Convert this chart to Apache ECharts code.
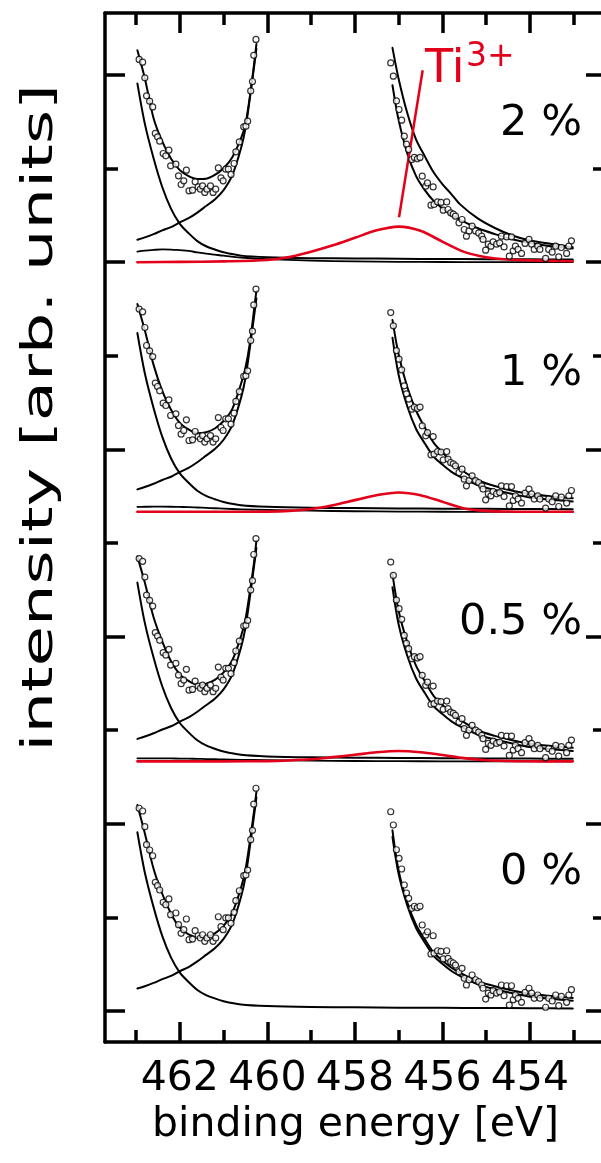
<!DOCTYPE html>
<html><head><meta charset="utf-8">
<script src="https://cdn.jsdelivr.net/npm/echarts@6/dist/echarts.min.js"></script>
<style>html,body{margin:0;padding:0;background:#fff}#c{width:601px;height:1163px}</style>
</head><body><div id="c"></div>
<script>
// ---------- data (binding energy in eV, intensity in arb. units relative to each panel's baseline) ----------
const panelLabels = ['2 %', '1 %', '0.5 %', '0 %'];
const panelOffsets = [8, 5.333, 2.667, 0];
const xTicksMajor = [454, 456, 458, 460, 462];
const xTicksMinor = [453, 455, 457, 459, 461, 463];
const yTicksMajor = [0, 2, 4, 6, 8, 10];
const yTicksMinor = [1, 3, 5, 7, 9];

// measured points (same spectrum shape in every panel)
const pointsLeft = [[462.93,2.166],[462.85,2.137],[462.80,1.969],[462.76,1.777],[462.69,1.720],[462.62,1.659],[462.56,1.375],[462.51,1.339],[462.46,1.293],[462.38,1.161],[462.32,1.136],[462.25,1.197],[462.21,1.029],[462.09,1.047],[462.03,0.922],[461.97,0.830],[461.91,0.869],[461.85,0.983],[461.79,0.762],[461.71,0.769],[461.65,0.858],[461.58,0.804],[461.53,0.780],[461.48,0.815],[461.43,0.745],[461.38,0.780],[461.30,0.815],[461.24,0.745],[461.18,0.780],[461.12,1.007],[461.06,0.901],[461.01,0.869],[460.95,0.994],[460.89,0.994],[460.83,0.937],[460.76,1.054],[460.72,1.179],[460.64,1.285],[460.54,1.446],[460.49,1.453],[460.45,1.506],[460.38,1.830],[460.34,1.930],[460.31,2.210],[460.26,2.380]];
const pointsRight = [[457.18,2.129],[457.12,1.987],[457.05,1.723],[456.99,1.631],[456.93,1.517],[456.87,1.346],[456.82,1.261],[456.77,1.204],[456.70,1.097],[456.64,1.119],[456.57,1.104],[456.51,1.119],[456.46,0.919],[456.38,0.812],[456.34,0.847],[456.26,0.609],[456.21,0.804],[456.19,0.616],[456.11,0.644],[456.03,0.638],[455.98,0.556],[455.90,0.644],[455.87,0.563],[455.81,0.527],[455.75,0.513],[455.70,0.491],[455.62,0.420],[455.55,0.456],[455.50,0.349],[455.45,0.278],[455.39,0.334],[455.32,0.385],[455.24,0.334],[455.17,0.313],[455.10,0.278],[455.07,0.243],[455.01,0.128],[454.95,0.192],[454.89,0.171],[454.84,0.217],[454.76,0.192],[454.69,0.206],[454.65,0.278],[454.59,0.163],[454.53,0.270],[454.47,0.064],[454.42,0.270],[454.38,0.121],[454.33,0.171],[454.27,0.136],[454.19,0.093],[454.11,0.200],[454.02,0.243],[453.96,0.192],[453.90,0.136],[453.82,0.171],[453.77,0.136],[453.64,0.040],[453.57,0.136],[453.49,0.107],[453.41,0.171],[453.34,0.057],[453.28,0.157],[453.16,0.093],[453.11,0.171],[453.05,0.228]];

// energy grids on which the fitted curves were read
const eLeft  = [462.97,462.8,462.6,462.4,462.2,462.0,461.8,461.6,461.4,461.2,461.0,460.8,460.6,460.5,460.4,460.3,460.25];
const eFull  = [462.97,462.8,462.6,462.4,462.2,462.0,461.8,461.6,461.4,461.2,461.0,460.6,460.0,459.0,458.0,457.0,456.0,455.0,454.0,453.02];
const eRight = [457.14,457.0,456.8,456.6,456.4,456.2,456.0,455.8,455.6,455.2,454.8,454.4,454.0,453.5,453.02];
const eTi3   = [462.97,462.0,461.0,460.0,459.5,459.0,458.5,458.0,457.5,457.0,456.5,456.0,455.5,455.0,454.5,454.0,453.5,453.02];

// Ti 2p1/2 component (tail from the left), same in all panels
const compA = [1.91,1.48,1.11,0.80,0.57,0.41,0.31,0.225,0.17,0.135,0.105,0.07,0.053,0.043,0.04,0.036,0.034,0.032,0.03,0.028];
// Ti 2p3/2 component, left branch and right branch
const compBLeft = [0.24,0.265,0.30,0.34,0.375,0.425,0.47,0.53,0.60,0.67,0.77,0.93,1.22,1.43,1.75,2.10,2.28];
const compBRight2 = [1.89,1.52,1.16,0.92,0.77,0.655,0.575,0.51,0.455,0.365,0.30,0.245,0.205,0.17,0.146];
const compBRight = [1.86,1.465,1.125,0.885,0.73,0.59,0.505,0.43,0.375,0.287,0.233,0.19,0.153,0.13,0.11];

// fit envelopes
const envLeft2  = [2.265,1.966,1.538,1.287,1.106,0.983,0.919,0.889,0.892,0.932,1.004,1.122,1.325,1.474,1.766,2.126,2.33];
const envLeft1  = [2.22,1.94,1.57,1.29,1.09,0.95,0.88,0.84,0.85,0.89,0.97,1.10,1.37,1.54,1.80,2.17,2.36];
const envLeft05 = [2.19,1.91,1.54,1.28,1.07,0.93,0.86,0.82,0.83,0.87,0.95,1.08,1.34,1.52,1.81,2.14,2.36];
const envLeft0  = [2.20,1.90,1.52,1.25,1.04,0.89,0.82,0.79,0.795,0.83,0.91,1.05,1.32,1.51,1.81,2.15,2.34];
const envRight2  = [2.29,1.96,1.59,1.31,1.13,0.96,0.835,0.73,0.62,0.47,0.365,0.285,0.232,0.195,0.16];
const envRight1  = [2.05,1.68,1.33,1.08,0.90,0.74,0.635,0.54,0.46,0.34,0.275,0.225,0.19,0.165,0.145];
const envRight05 = [2.0,1.61,1.27,1.02,0.855,0.70,0.605,0.515,0.445,0.335,0.272,0.225,0.188,0.165,0.145];
const envRight0  = [1.93,1.50,1.16,0.92,0.765,0.625,0.54,0.465,0.41,0.32,0.265,0.22,0.185,0.16,0.14];

// small black background-like component
const small2  = [0.113,0.123,0.131,0.137,0.135,0.128,0.121,0.104,0.091,0.08,0.069,0.05,0.033,0.017,0.008,0.004,0.002,0.001,0,0];
const small1  = [0.053,0.054,0.055,0.055,0.054,0.052,0.05,0.046,0.042,0.038,0.034,0.027,0.02,0.012,0.006,0.003,0.001,0,0,0];
const small05 = [0.033,0.033,0.033,0.032,0.031,0.03,0.029,0.027,0.025,0.023,0.021,0.017,0.013,0.008,0.004,0.002,0.001,0,0,0];

// Ti3+ component (red)
const ti3_2  = [0,0.003,0.009,0.024,0.056,0.112,0.18,0.26,0.34,0.38,0.335,0.22,0.11,0.053,0.028,0.019,0.014,0.01];
const ti3_1  = [0,0,0,0.002,0.01,0.03,0.07,0.125,0.178,0.207,0.178,0.107,0.036,0.01,0.003,0,0,0];
const ti3_05 = [0,0,0,0.003,0.01,0.022,0.045,0.07,0.097,0.111,0.098,0.068,0.035,0.012,0.004,0.001,0,0];

// annotation pointer for the Ti3+ label (data coordinates)
const ti3Pointer = [[456.99, 8.48], [456.45, 10.05]];

// ---------- build ----------
const RED = '#e2001a';
const FONT = 'DejaVu Sans';
const xMin = 452.26, xMax = 463.71, yMin = -0.331, yMax = 10.662;

const envLefts = [envLeft2, envLeft1, envLeft05, envLeft0];
const envRights = [envRight2, envRight1, envRight05, envRight0];
const bRights = [compBRight2, compBRight, compBRight, compBRight];
const smalls = [small2, small1, small05, null];
const ti3s = [ti3_2, ti3_1, ti3_05, null];

function pairs(xs, ys, off) { return xs.map((x, i) => [x, ys[i] + off]); }
function curve(data, color, width) {
  return { type: 'line', data, xAxisIndex: 0, yAxisIndex: 0, showSymbol: false, symbol: 'none',
    smooth: 0.3, lineStyle: { color, width, join: 'round', cap: 'round' }, silent: true, animation: false, z: 3 };
}

const series = [];
panelOffsets.forEach((off, k) => {
  if (smalls[k]) series.push(curve(pairs(eFull, smalls[k], off), '#000', 1.8));
  series.push(curve(pairs(eFull, compA, off), '#000', 2));
  series.push(curve(pairs(eLeft, compBLeft, off), '#000', 2));
  series.push(curve(pairs(eRight, bRights[k], off), '#000', 2));
  series.push(curve(pairs(eLeft, envLefts[k], off), '#000', 2));
  series.push(curve(pairs(eRight, envRights[k], off), '#000', 2));
  if (ti3s[k]) { const c = curve(pairs(eTi3, ti3s[k], off), RED, 2.6); c.z = 4; series.push(c); }
  series.push({ type: 'scatter', xAxisIndex: 0, yAxisIndex: 0, symbol: 'circle', symbolSize: 6,
    data: pointsLeft.concat(pointsRight).map(p => [p[0], p[1] + off]),
    itemStyle: { color: '#fff', borderColor: '#000', borderWidth: 1.2 }, silent: true, animation: false, z: 5 });
});
series.push({ type: 'line', data: ti3Pointer, xAxisIndex: 0, yAxisIndex: 0, showSymbol: false, symbol: 'none',
  lineStyle: { color: RED, width: 2.5 }, silent: true, animation: false, z: 4 });

const lineSt = { color: '#000', width: 3.5 };
function xAx(grid, pos, ticks, len, line, labels) {
  return { type: 'value', gridIndex: grid, position: pos, min: xMin, max: xMax, inverse: true,
    axisLine: { show: line, onZero: false, lineStyle: lineSt },
    axisTick: { show: true, inside: true, length: len, customValues: ticks, lineStyle: lineSt },
    axisLabel: labels ? { show: true, customValues: ticks, fontSize: 41, fontFamily: FONT, color: '#000', margin: 17 } : { show: false },
    splitLine: { show: false }, minorTick: { show: false } };
}
function yAx(grid, pos, ticks, len, line) {
  return { type: 'value', gridIndex: grid, position: pos, min: yMin, max: yMax,
    axisLine: { show: line, onZero: false, lineStyle: lineSt },
    axisTick: { show: true, inside: true, length: len, customValues: ticks, lineStyle: lineSt },
    axisLabel: { show: false }, splitLine: { show: false } };
}
const xBottom = xAx(0, 'bottom', xTicksMajor, 20, true, true);
xBottom.name = 'binding energy [eV]';
xBottom.nameLocation = 'middle';
xBottom.nameGap = 63;
xBottom.nameTextStyle = { fontSize: 41, fontFamily: FONT, color: '#000' };

const gridRect = { left: 105, top: 13, width: 501, height: 1029, outerBoundsMode: 'none', containLabel: false };

const graphics = [
  { type: 'text', x: 41, y: 418, rotation: Math.PI / 2, scaleX: 1.56, z: 10,
    style: { text: 'intensity [arb. units]', fontSize: 42, fontFamily: FONT, fill: '#000', textAlign: 'center', textVerticalAlign: 'middle' } },
  { type: 'text', x: 425, y: 70, z: 10,
    style: { text: 'Ti', fontSize: 46, fontFamily: FONT, fill: RED, textAlign: 'left', textVerticalAlign: 'middle' } },
  { type: 'text', x: 466, y: 57, z: 10,
    style: { text: '3+', fontSize: 33, fontFamily: FONT, fill: RED, textAlign: 'left', textVerticalAlign: 'middle' } }
];
panelLabels.forEach((t, k) => {
  graphics.push({ type: 'text', x: 582, y: 124 + k * 249.6, z: 10,
    style: { text: t, fontSize: 43, fontFamily: FONT, fill: '#000', textAlign: 'right', textVerticalAlign: 'middle' } });
});

const chart = echarts.init(document.getElementById('c'), null, { renderer: 'canvas' });
chart.setOption({
  animation: false,
  backgroundColor: '#fff',
  grid: [Object.assign({}, gridRect), Object.assign({}, gridRect)],
  xAxis: [xBottom, xAx(0, 'top', xTicksMajor, 20, true, false), xAx(1, 'bottom', xTicksMinor, 12, false, false), xAx(1, 'top', xTicksMinor, 12, false, false)],
  yAxis: [yAx(0, 'left', yTicksMajor, 20, true), yAx(0, 'right', yTicksMajor, 20, true), yAx(1, 'left', yTicksMinor, 13, false), yAx(1, 'right', yTicksMinor, 13, false)],
  series,
  graphic: graphics
});
</script></body></html>
